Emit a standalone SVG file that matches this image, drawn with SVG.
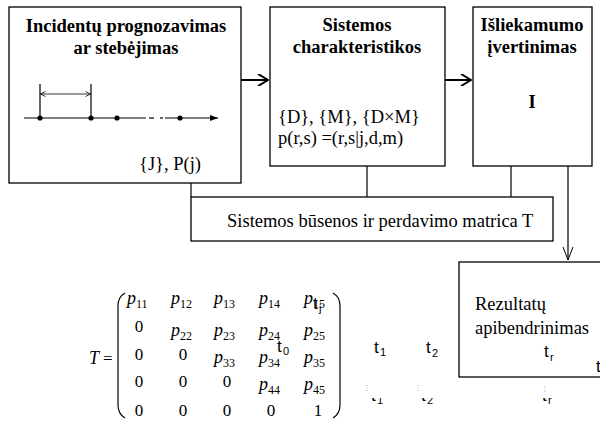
<svg xmlns="http://www.w3.org/2000/svg" width="600" height="430" viewBox="0 0 600 430">
<style>
.box{fill:#fff;stroke:#000;stroke-width:1.3}
.ln{fill:none;stroke:#000;stroke-width:1.2}
.thick{fill:none;stroke:#000;stroke-width:2}
.tb{font-family:"Liberation Serif","Times New Roman",serif;font-weight:bold;font-size:18.5px;fill:#000}
.tr{font-family:"Liberation Serif","Times New Roman",serif;font-size:18.5px;fill:#000}
.m{font-family:"Liberation Serif","Times New Roman",serif;font-size:17px;fill:#000}
.mi{font-family:"Liberation Serif","Times New Roman",serif;font-size:18px;font-style:italic;fill:#000}
.sub{font-family:"Liberation Serif","Times New Roman",serif;font-size:12px;fill:#000}
.t{font-family:"Liberation Sans",Arial,sans-serif;font-size:17px;fill:#000}
.ts{font-family:"Liberation Sans",Arial,sans-serif;font-size:11px;fill:#000}
</style>
<defs>
<marker id="open" viewBox="0 0 12 12" refX="11" refY="6" markerWidth="12" markerHeight="12" markerUnits="userSpaceOnUse" orient="auto">
<polyline points="1,0 11,6 1,12" fill="none" stroke="#000" stroke-width="2"/>
</marker>
<marker id="thin" viewBox="0 0 14 12" refX="13" refY="6" markerWidth="14" markerHeight="12" markerUnits="userSpaceOnUse" orient="auto">
<polyline points="0,1 13,6 0,11" fill="none" stroke="#000" stroke-width="1"/>
</marker>
<marker id="small" viewBox="0 0 6 6" refX="5.5" refY="3" markerWidth="6" markerHeight="6" markerUnits="userSpaceOnUse" orient="auto-start-reverse">
<polyline points="0.5,0.5 5.5,3 0.5,5.5" fill="none" stroke="#000" stroke-width="0.8"/>
</marker>
<marker id="fill" viewBox="0 0 8 6" refX="8" refY="3" markerWidth="8" markerHeight="6" markerUnits="userSpaceOnUse" orient="auto">
<polygon points="0,0 8,3 0,6" fill="#000"/>
</marker>
<clipPath id="lowclip"><rect x="0" y="398" width="600" height="12"/></clipPath>
</defs>

<g id="connectors">
<line class="thick" x1="241" y1="80" x2="268" y2="80" marker-end="url(#open)"/>
<line class="thick" x1="445" y1="80" x2="471" y2="80" marker-end="url(#open)"/>
<line class="ln" x1="191" y1="183" x2="191" y2="197"/>
<line class="ln" x1="367" y1="166" x2="367" y2="197"/>
<line class="ln" x1="511" y1="166" x2="511" y2="197"/>
<line class="ln" x1="568" y1="166" x2="568" y2="260" marker-end="url(#thin)"/>
</g>

<g id="node-incidentai">
<rect class="box" x="9" y="7" width="232" height="176"/>
<text class="tb" x="126" y="32" text-anchor="middle">Incidentų prognozavimas</text>
<text class="tb" x="126" y="54" text-anchor="middle">ar stebėjimas</text>
<g id="timeline">
<line class="ln" x1="24" y1="118" x2="146" y2="118"/>
<line class="ln" x1="149" y1="118" x2="154" y2="118"/>
<line class="ln" x1="160" y1="118" x2="163" y2="118"/>
<line class="ln" x1="165" y1="118" x2="218" y2="118" marker-end="url(#fill)"/>
<line class="ln" x1="40" y1="84" x2="40" y2="118"/>
<line class="ln" x1="91" y1="84" x2="91" y2="118"/>
<line x1="40.5" y1="94" x2="90.5" y2="94" stroke="#000" stroke-width="0.8" marker-start="url(#small)" marker-end="url(#small)"/>
<circle cx="40" cy="118" r="2.6"/>
<circle cx="91" cy="118" r="2.6"/>
<circle cx="117" cy="118" r="2.6"/>
<circle cx="180" cy="118" r="2.6"/>
</g>
<text class="tr" x="139" y="170">{J}, P(j)</text>
</g>

<g id="node-sistemos">
<rect class="box" x="270" y="7" width="175" height="159"/>
<text class="tb" x="357" y="31" text-anchor="middle">Sistemos</text>
<text class="tb" x="357" y="53" text-anchor="middle">charakteristikos</text>
<text class="tr" x="278" y="123">{D}, {M}, {D×M}</text>
<text class="tr" x="278" y="144">p(r,s) =(r,s|j,d,m)</text>
</g>

<g id="node-isliekamumas">
<rect class="box" x="473" y="7" width="119" height="159"/>
<text class="tb" x="532" y="31" text-anchor="middle">Išliekamumo</text>
<text class="tb" x="532" y="53" text-anchor="middle">įvertinimas</text>
<text class="tb" x="532" y="108" text-anchor="middle">I</text>
</g>

<g id="node-matrica">
<rect class="box" x="191" y="197" width="362" height="44"/>
<text class="tr" x="227" y="227">Sistemos būsenos ir perdavimo matrica T</text>
</g>

<g id="node-rezultatai">
<rect class="box" x="459" y="262" width="150" height="115"/>
<text class="tr" x="475" y="310">Rezultatų</text>
<text class="tr" x="475" y="334">apibendrinimas</text>
</g>

<g id="matrix">
<text class="mi" x="89" y="364">T</text>
<text class="m" x="103" y="364">=</text>
<path class="ln" d="M125,293 Q118,297 118,306 L118,405 Q118,414 125,418" stroke-width="1"/>
<path class="ln" d="M333,293 Q340,297 340,306 L340,405 Q340,414 333,418" stroke-width="1"/>
<!-- row 1 -->
<text class="mi" x="127" y="304">p</text><text class="sub" x="136" y="308">11</text>
<text class="mi" x="171" y="304">p</text><text class="sub" x="180" y="308">12</text>
<text class="mi" x="214" y="304">p</text><text class="sub" x="223" y="308">13</text>
<text class="mi" x="259" y="304">p</text><text class="sub" x="268" y="308">14</text>
<text class="mi" x="304" y="304">p</text><text class="sub" x="313" y="308">15</text>
<!-- row 2 -->
<text class="m" x="139" y="332" text-anchor="middle">0</text>
<text class="mi" x="171" y="336">p</text><text class="sub" x="180" y="340">22</text>
<text class="mi" x="214" y="336">p</text><text class="sub" x="223" y="340">23</text>
<text class="mi" x="259" y="336">p</text><text class="sub" x="268" y="340">24</text>
<text class="mi" x="304" y="336">p</text><text class="sub" x="313" y="340">25</text>
<!-- row 3 -->
<text class="m" x="139" y="360" text-anchor="middle">0</text>
<text class="m" x="183" y="360" text-anchor="middle">0</text>
<text class="mi" x="214" y="363">p</text><text class="sub" x="223" y="367">33</text>
<text class="mi" x="259" y="363">p</text><text class="sub" x="268" y="367">34</text>
<text class="mi" x="304" y="363">p</text><text class="sub" x="313" y="367">35</text>
<!-- row 4 -->
<text class="m" x="139" y="387" text-anchor="middle">0</text>
<text class="m" x="183" y="387" text-anchor="middle">0</text>
<text class="m" x="227" y="387" text-anchor="middle">0</text>
<text class="mi" x="259" y="390">p</text><text class="sub" x="268" y="394">44</text>
<text class="mi" x="304" y="390">p</text><text class="sub" x="313" y="394">45</text>
<!-- row 5 -->
<text class="m" x="139" y="416" text-anchor="middle">0</text>
<text class="m" x="183" y="416" text-anchor="middle">0</text>
<text class="m" x="227" y="416" text-anchor="middle">0</text>
<text class="m" x="271" y="416" text-anchor="middle">0</text>
<text class="m" x="318" y="416" text-anchor="middle">1</text>
</g>

<g id="time-labels">
<text class="t" x="313" y="309">t</text><text class="ts" x="319" y="312">j</text>
<text class="t" x="277" y="352">t</text><text class="ts" x="283" y="355">0</text>
<text class="t" x="374" y="353">t</text><text class="ts" x="380" y="356">1</text>
<text class="t" x="426" y="353">t</text><text class="ts" x="432" y="357">2</text>
<text class="t" x="544" y="357">t</text><text class="ts" x="550" y="361">r</text>
<text class="t" x="596" y="372">t</text>
<g clip-path="url(#lowclip)">
<text class="t" x="371" y="401">t</text><text class="ts" x="377" y="404">1</text>
<text class="t" x="421" y="401">t</text><text class="ts" x="427" y="404">2</text>
<text class="t" x="542" y="401">t</text><text class="ts" x="548" y="404">r</text>
</g>
<g stroke="#999" stroke-width="0.8" stroke-dasharray="1,1.5">
<line x1="367" y1="385" x2="367" y2="391"/>
<line x1="418" y1="385" x2="418" y2="391"/>
<line x1="545" y1="386" x2="545" y2="392"/>
</g>
</g>
</svg>
